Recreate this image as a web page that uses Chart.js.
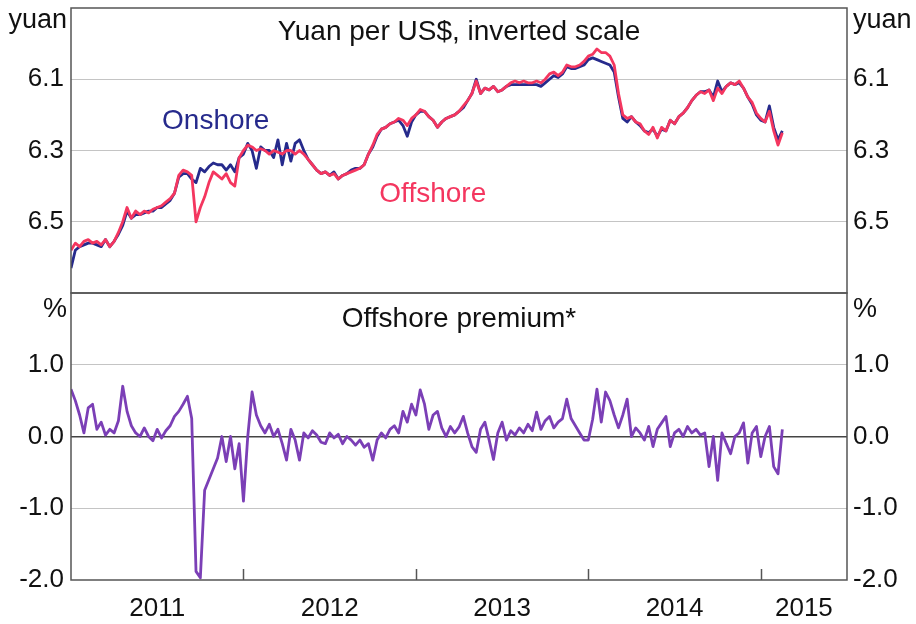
<!DOCTYPE html>
<html>
<head>
<meta charset="utf-8">
<script src="https://cdn.jsdelivr.net/npm/chart.js@4/dist/chart.umd.min.js"></script>
<style>
  html, body { margin: 0; padding: 0; background: #fff; }
  #wrap { position: relative; width: 916px; height: 624px; }
  canvas { position: absolute; left: 0; }
  #rateChart { top: 0; }
  #premiumChart { top: 286px; }
</style>
</head>
<body>
<div id="wrap">
  <canvas id="rateChart" width="916" height="300"></canvas>
  <canvas id="premiumChart" width="916" height="338"></canvas>
</div>
<script>
// observations: 40 per year from the start of 2011
const startYear = 2011;
const obsPerYear = 40;

// CNY per USD (onshore) and CNH per USD (offshore)
const onshore = [
  6.63, 6.58, 6.57, 6.565, 6.56, 6.56, 6.565, 6.57, 6.55, 6.57,
  6.555, 6.535, 6.51, 6.47, 6.49, 6.48, 6.48, 6.475, 6.47, 6.47,
  6.46, 6.46, 6.45, 6.44, 6.42, 6.375, 6.365, 6.365, 6.38, 6.39,
  6.35, 6.36, 6.345, 6.335, 6.34, 6.34, 6.355, 6.34, 6.36, 6.32,
  6.31, 6.28, 6.30, 6.35, 6.29, 6.30, 6.30, 6.32, 6.27, 6.34,
  6.28, 6.33, 6.28, 6.27, 6.30, 6.325, 6.34, 6.355, 6.365, 6.36,
  6.37, 6.36, 6.38, 6.37, 6.365, 6.355, 6.35, 6.35, 6.34, 6.31,
  6.29, 6.26, 6.24, 6.235, 6.225, 6.22, 6.215, 6.23, 6.26, 6.22,
  6.20, 6.19, 6.19, 6.205, 6.215, 6.235, 6.22, 6.21, 6.205, 6.20,
  6.19, 6.18, 6.16, 6.14, 6.10, 6.14, 6.125, 6.13, 6.12, 6.135,
  6.13, 6.12, 6.115, 6.115, 6.115, 6.115, 6.115, 6.115, 6.115, 6.12,
  6.11, 6.10, 6.09, 6.095, 6.085, 6.065, 6.07, 6.07, 6.065, 6.06,
  6.045, 6.04, 6.045, 6.05, 6.055, 6.06, 6.08, 6.15, 6.21, 6.22,
  6.205, 6.22, 6.23, 6.245, 6.25, 6.24, 6.26, 6.24, 6.245, 6.215,
  6.225, 6.205, 6.195, 6.18, 6.16, 6.145, 6.135, 6.135, 6.13, 6.15,
  6.105, 6.135, 6.12, 6.11, 6.115, 6.11, 6.125, 6.15, 6.17, 6.20,
  6.215, 6.22, 6.175, 6.235, 6.27, 6.245
];
const offshore = [
  6.58, 6.56, 6.57, 6.555, 6.55, 6.56, 6.555, 6.565, 6.55, 6.57,
  6.555, 6.53, 6.50, 6.46, 6.49, 6.47, 6.48, 6.47, 6.475, 6.465,
  6.46, 6.455, 6.445, 6.435, 6.42, 6.37, 6.355, 6.36, 6.37, 6.50,
  6.46, 6.43, 6.39, 6.36, 6.37, 6.38, 6.365, 6.39, 6.40, 6.32,
  6.30, 6.285, 6.29, 6.30, 6.295, 6.30, 6.31, 6.30, 6.305, 6.31,
  6.30, 6.30, 6.31, 6.30, 6.31, 6.325, 6.34, 6.355, 6.365, 6.36,
  6.37, 6.365, 6.38, 6.37, 6.365, 6.36, 6.355, 6.35, 6.34, 6.31,
  6.285, 6.255, 6.24, 6.235, 6.225, 6.22, 6.21, 6.215, 6.23, 6.21,
  6.20, 6.185, 6.19, 6.205, 6.215, 6.235, 6.22, 6.21, 6.205, 6.20,
  6.19, 6.175, 6.16, 6.14, 6.105, 6.14, 6.125, 6.13, 6.12, 6.135,
  6.13, 6.12, 6.11, 6.105, 6.11, 6.105, 6.11, 6.11, 6.105, 6.11,
  6.10, 6.085, 6.08, 6.09, 6.08, 6.06, 6.065, 6.065, 6.06, 6.05,
  6.035, 6.03, 6.015, 6.025, 6.025, 6.035, 6.06, 6.14, 6.20, 6.21,
  6.205, 6.22, 6.225, 6.245, 6.255, 6.235, 6.265, 6.235, 6.245, 6.215,
  6.225, 6.205, 6.195, 6.18, 6.16, 6.145, 6.135, 6.14, 6.13, 6.16,
  6.125, 6.14, 6.12, 6.11, 6.115, 6.105, 6.125, 6.15, 6.165, 6.195,
  6.21, 6.22, 6.19, 6.245, 6.285, 6.25
];
// offshore premium, per cent
const premium = [
  0.66, 0.5, 0.3, 0.05, 0.4, 0.45, 0.1, 0.2, 0.02, 0.1,
  0.05, 0.22, 0.7, 0.35, 0.15, 0.05, 0.0, 0.12, 0.0, -0.06,
  0.1, -0.02, 0.08, 0.15, 0.28, 0.35, 0.45, 0.56, 0.25, -1.88,
  -1.97, -0.75, -0.6, -0.45, -0.3, 0.0, -0.35, 0.0, -0.45, -0.1,
  -0.9, 0.0, 0.62, 0.3, 0.15, 0.05, 0.17, 0.0, 0.1, -0.1,
  -0.33, 0.1, -0.05, -0.33, 0.05, -0.02, 0.08, 0.02, -0.08, -0.1,
  0.05, -0.02, 0.03, -0.1, 0.0, -0.05, -0.12, -0.05, -0.15, -0.1,
  -0.33, -0.05, 0.05, -0.02, 0.1, 0.15, 0.05, 0.35, 0.2, 0.45,
  0.3, 0.65, 0.45, 0.1, 0.3, 0.35, 0.12, 0.0, 0.14, 0.05,
  0.13, 0.28, 0.05, -0.14, -0.22, 0.1, 0.2, -0.05, -0.32, 0.05,
  0.2, -0.05, 0.08, 0.02, 0.12, 0.05, 0.17, 0.08, 0.34, 0.1,
  0.22, 0.28, 0.12, 0.2, 0.25, 0.52, 0.25, 0.15, 0.05, -0.05,
  -0.05, 0.24, 0.66, 0.2, 0.62, 0.5, 0.3, 0.12, 0.3, 0.52,
  0.0, 0.12, 0.05, -0.05, 0.14, -0.14, 0.1, 0.19, 0.28, -0.14,
  0.05, 0.1, 0.0, 0.14, 0.05, 0.1, 0.02, 0.05, -0.42, 0.0,
  -0.61, 0.05, -0.1, -0.24, 0.0, 0.05, 0.19, -0.37, 0.05, 0.14,
  -0.28, 0.0, 0.14, -0.42, -0.52, 0.1
];

const years = [2011, 2012, 2013, 2014, 2015];
const xMin = 2011, xMax = 2015.5;
const rateTicks = [6.1, 6.3, 6.5];
const premiumTicks = [1, 0, -1, -2];

const dates = onshore.map((_, i) => startYear + i / obsPerYear);
const toPoints = (values) => values.map((v, i) => ({ x: dates[i], y: v }));

const FONT = "'Liberation Sans', Arial, sans-serif";
const TEXT = '#111';
const GRID = '#c4c4c4';
const FRAME = '#555';
const RED = '#f4365f';
const NAVY = '#262a8c';
const PURPLE = '#7b3fb6';

// frame, panel title, unit labels, series labels, year tick marks
const panelPlugin = {
    id: 'panel',
    afterDraw(chart, args, opts) {
        const { ctx, chartArea: a } = chart;
        ctx.save();
        ctx.strokeStyle = FRAME;
        ctx.lineWidth = 1.5;
        ctx.strokeRect(a.left, a.top, a.right - a.left, a.bottom - a.top);

        if (opts.yearMarks) {
            const xs = chart.scales.x;
            years.forEach(y => {
                if (y <= xMin || y >= xMax) return;
                const px = Math.round(xs.getPixelForValue(y)) + 0.5;
                ctx.beginPath();
                ctx.moveTo(px, a.bottom);
                ctx.lineTo(px, a.bottom - 11);
                ctx.stroke();
            });
        }

        ctx.fillStyle = TEXT;
        ctx.font = `28px ${FONT}`;
        ctx.textBaseline = 'alphabetic';
        ctx.textAlign = 'center';
        ctx.fillText(opts.title, (a.left + a.right) / 2, a.top + opts.titleOffset);

        ctx.font = `27px ${FONT}`;
        ctx.textAlign = 'right';
        ctx.fillText(opts.unit, a.left - 4, a.top + opts.unitOffset);
        ctx.textAlign = 'left';
        ctx.fillText(opts.unit, a.right + 6, a.top + opts.unitOffset);

        ctx.font = `28px ${FONT}`;
        (opts.labels || []).forEach(l => {
            ctx.fillStyle = l.color;
            ctx.fillText(l.text, chart.scales.x.getPixelForValue(l.x), chart.scales.y.getPixelForValue(l.y));
        });
        ctx.restore();
    }
};

function valueAxis(position, min, max, reverse, ticks, width, grid) {
    return {
        position,
        min,
        max,
        reverse,
        afterBuildTicks: (s) => { s.ticks = ticks.map(v => ({ value: v })); },
        // fixed gutter width, and no extra room above/below for the labels
        afterFit: (s) => { s.width = width; s.paddingTop = 0; s.paddingBottom = 0; },
        grid: grid ? { drawTicks: false, ...grid } : { display: false, drawTicks: false },
        border: { display: false },
        ticks: {
            padding: position === 'left' ? 7 : 6,
            color: TEXT,
            font: { family: FONT, size: 26 },
            callback: (v) => Number(v).toFixed(1)
        }
    };
}

const baseOptions = {
    responsive: false,
    animation: false,
    events: [],
    elements: { point: { radius: 0 }, line: { tension: 0, borderJoinStyle: 'round' } },
};

new Chart(document.getElementById('rateChart'), {
    type: 'line',
    data: {
        datasets: [
            { label: 'Offshore', data: toPoints(offshore), borderColor: RED, borderWidth: 2.8 },
            { label: 'Onshore', data: toPoints(onshore), borderColor: NAVY, borderWidth: 2.8 }
        ]
    },
    options: {
        ...baseOptions,
        layout: { padding: { top: 8, bottom: 7, left: 0, right: 0 } },
        plugins: {
            legend: { display: false },
            tooltip: { enabled: false },
            panel: {
                title: 'Yuan per US$, inverted scale',
                titleOffset: 32,
                unit: 'yuan',
                unitOffset: 20,
                labels: [
                    { text: 'Onshore', x: 2011.528, y: 6.241, color: NAVY },
                    { text: 'Offshore', x: 2012.788, y: 6.444, color: RED }
                ]
            }
        },
        scales: {
            x: { type: 'linear', min: xMin, max: xMax, display: false },
            y: valueAxis('left', 5.9, 6.7, true, rateTicks, 71, { color: GRID, lineWidth: 1 }),
            y2: valueAxis('right', 5.9, 6.7, true, rateTicks, 69, null)
        }
    },
    plugins: [panelPlugin]
});

const yearMid = years.map(y => (Math.max(y, xMin) + Math.min(y + 1, xMax)) / 2);

new Chart(document.getElementById('premiumChart'), {
    type: 'line',
    data: {
        datasets: [
            { label: 'Offshore premium', data: toPoints(premium), borderColor: PURPLE, borderWidth: 2.8 }
        ]
    },
    options: {
        ...baseOptions,
        layout: { padding: { top: 7, bottom: 0, left: 0, right: 0 } },
        plugins: {
            legend: { display: false },
            tooltip: { enabled: false },
            panel: {
                title: 'Offshore premium*',
                titleOffset: 34,
                unit: '%',
                unitOffset: 24,
                yearMarks: true
            }
        },
        scales: {
            x: {
                type: 'linear',
                min: xMin,
                max: xMax,
                afterBuildTicks: (s) => { s.ticks = yearMid.map(v => ({ value: v })); },
                afterFit: (s) => { s.height = 44; s.paddingLeft = 0; s.paddingRight = 0; },
                grid: { display: false, drawTicks: false },
                border: { display: false },
                ticks: {
                    autoSkip: false,
                    maxRotation: 0,
                    padding: 13,
                    color: TEXT,
                    font: { family: FONT, size: 26 },
                    callback: (v, i) => String(years[i])
                }
            },
            y: valueAxis('left', -2, 2, false, premiumTicks, 71, {
                color: (c) => c.tick.value === 0 ? '#444' : (c.tick.value === -2 ? 'rgba(0,0,0,0)' : GRID),
                lineWidth: (c) => c.tick.value === 0 ? 1.5 : 1
            }),
            y2: valueAxis('right', -2, 2, false, premiumTicks, 69, null)
        }
    },
    plugins: [panelPlugin]
});
</script>
</body>
</html>
